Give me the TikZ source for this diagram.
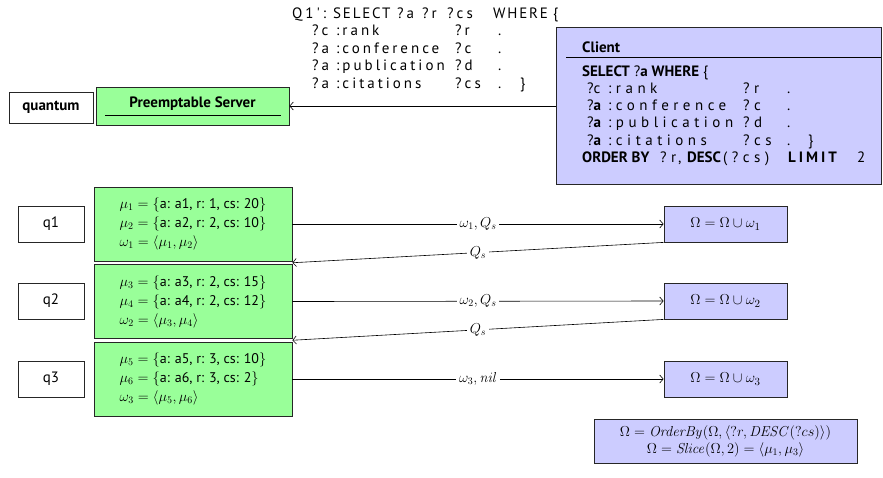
\documentclass[tikz,border=0pt]{standalone}
\usepackage{amsmath}
\usepackage[no-math]{fontspec}
\setmainfont{PT Sans}
\newfontfamily\codefont[LetterSpace=20]{PT Sans}
\newfontfamily\clcodefont[LetterSpace=30]{PT Sans}
\newfontfamily\kwfont[LetterSpace=12]{PT Sans}
\usetikzlibrary{calc,arrows.meta}
\newcommand\cd[1]{{\codefont #1}}
\newcommand\ccd[1]{{\clcodefont #1}}
\newcommand\kw[1]{{\kwfont #1}}
\newcommand\col[2]{\makebox[#1pt][l]{#2}}
\begin{document}
\begin{tikzpicture}[x=1pt,y=-1pt,
  font=\fontsize{14}{17}\selectfont,
  box/.style={draw=black!85, line width=0.8pt},
  code/.style={inner sep=0, anchor=base west, font=\fontsize{15}{17}\selectfont},
  greenbox/.style={box, fill=green!40, minimum width=198, minimum height=74, align=left, font=\fontsize{14}{19}\selectfont},
  qbox/.style={box, fill=white, minimum width=66, minimum height=36, font=\fontsize{15}{18}\selectfont},
  omegabox/.style={box, fill=blue!20, minimum width=123, minimum height=36, font=\fontsize{15}{18}\selectfont},
  lbl/.style={fill=white, inner sep=3pt, font=\fontsize{14}{17}\selectfont},
  arr/.style={-{Straight Barb[length=3.5pt,width=8pt]}, line width=0.6pt}]
\useasboundingbox (0,0) rectangle (883,477);

% Q1' query
\node[code] (qa) at (292,18) {\col{41}{\cd{Q1':}}\col{64}{\kw{SELECT}}\col{25}{\cd{?a}}\col{25}{\cd{?r}}\col{46}{\cd{?cs}}\col{60}{\kw{WHERE}}\{};
\node[code] (qb) at (312,35.6) {\col{24}{\cd{?c}}\col{119}{\cd{:rank}}\col{43}{\cd{?r}}\cd{.}};
\node[code] (qc) at (312,53.2) {\col{24}{\cd{?a}}\col{119}{\cd{:conference}}\col{43}{\cd{?c}}\cd{.}};
\node[code] (qd) at (312,70.8) {\col{24}{\cd{?a}}\col{119}{\cd{:publication}}\col{43}{\cd{?d}}\cd{.}};
\node[code] (qe) at (312,88.4) {\col{24}{\cd{?a}}\col{119}{\cd{:citations}}\col{43}{\cd{?cs}}\col{22}{\cd{.}}\}};

\node[box, fill=white, minimum width=84, minimum height=31, font=\fontsize{15}{18}\selectfont\bfseries] (quantum) at (51,107.5) {quantum};
\node[box, fill=green!40, minimum width=193, minimum height=38] (server) at (192.5,106) {};
\node[font=\fontsize{15}{18}\selectfont\bfseries] (servertitle) at (192.5,103.5) {Preemptable Server};
\draw[line width=0.8pt] (105,115) -- (281,115);

% client
\node[box, fill=blue!20, minimum width=325, minimum height=157] (client) at (718.5,106) {};
\node[code, font=\fontsize{15}{18}\selectfont\bfseries] (clienthead) at (582,52) {Client};
\draw[line width=0.8pt] (566,57) -- (881,57);
\node[code] (ca) at (582,76) {\textbf{SELECT} ?\textbf{a} \textbf{WHERE} \{};
\node[code] (cb) at (587,93.5) {\col{21}{?c}\col{135}{\ccd{:rank}}\col{44}{\ccd{?r}}\ccd{.}};
\node[code] (cc) at (587,110.7) {\col{21}{?\textbf{a}}\col{135}{\ccd{:conference}}\col{44}{\ccd{?c}}\ccd{.}};
\node[code] (cd) at (587,127.9) {\col{21}{?\textbf{a}}\col{135}{\ccd{:publication}}\col{44}{\ccd{?d}}\ccd{.}};
\node[code] (ce) at (587,145.1) {\col{21}{?\textbf{a}}\col{135}{\ccd{:citations}}\col{44}{\ccd{?cs}}\col{21}{\ccd{.}}\}};
\node[code] (cf) at (582,162.3) {\col{78}{\textbf{ORDER BY}}\col{18}{\ccd{?r}}\col{9}{,}\col{36}{\textbf{DESC}}\col{65}{\ccd{(?cs)}}\col{69}{\cd{\bfseries LIMIT}}2};

\draw[arr] (client.west) -- (server.east);

% rows
\node[qbox] (q1) at (51,224) {q1};
\node[qbox] (q2) at (51,301) {q2};
\node[qbox] (q3) at (51,379) {q3};

\node[greenbox] (g1) at (193,224) {$\mu_1 = \{\text{a: a1, r: 1, cs: 20}\}$\\ $\mu_2 = \{\text{a: a2, r: 2, cs: 10}\}$\\ $\omega_1 = \langle \mu_1, \mu_2\rangle$};
\node[greenbox] (g2) at (193,301.5) {$\mu_3 = \{\text{a: a3, r: 2, cs: 15}\}$\\ $\mu_4 = \{\text{a: a4, r: 2, cs: 12}\}$\\ $\omega_2 = \langle \mu_3, \mu_4\rangle$};
\node[greenbox] (g3) at (193,379) {$\mu_5 = \{\text{a: a5, r: 3, cs: 10}\}$\\ $\mu_6 = \{\text{a: a6, r: 3, cs: 2}\}$\\ $\omega_3 = \langle \mu_5, \mu_6\rangle$};

\node[omegabox] (o1) at (725.5,224) {$\Omega = \Omega \cup \omega_1$};
\node[omegabox] (o2) at (725.5,301) {$\Omega = \Omega \cup \omega_2$};
\node[omegabox] (o3) at (725.5,379) {$\Omega = \Omega \cup \omega_3$};

\coordinate (g12) at ($(g1.south east)!0.5!(g2.north east)$);
\coordinate (g23) at ($(g2.south east)!0.5!(g3.north east)$);

\draw[arr] (g1.east) -- node[lbl] {$\omega_1, Q_s$} (o1.west);
\draw[arr] (o1.south west) -- node[lbl] {$Q_s$} (g12);
\draw[arr] (g2.east) -- node[lbl] {$\omega_2, Q_s$} (o2.west);
\draw[arr] (o2.south west) -- node[lbl] {$Q_s$} (g23);
\draw[arr] (g3.east) -- node[lbl] {$\omega_3, \mathit{nil}$} (o3.west);

\node[box, fill=blue!20, minimum width=263, minimum height=44, align=center, font=\fontsize{14}{17}\selectfont] (final) at (725.5,441)
{$\Omega = \mathit{OrderBy}(\Omega, \langle ?r, \mathit{DESC}(?cs)\rangle)$\\ $\Omega = \mathit{Slice}(\Omega, 2) = \langle \mu_1, \mu_3\rangle$};
\end{tikzpicture}
\end{document}
